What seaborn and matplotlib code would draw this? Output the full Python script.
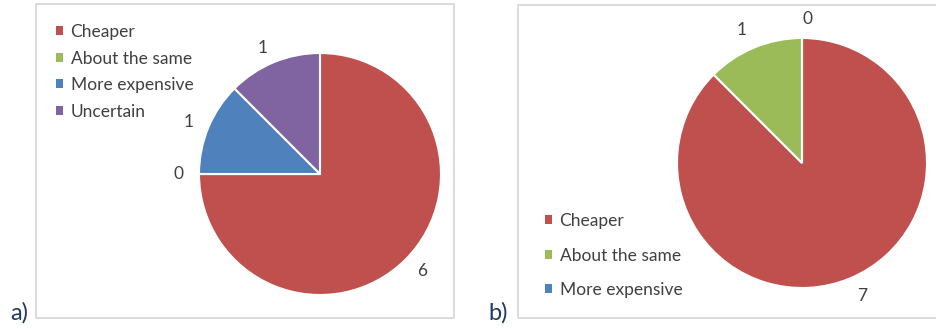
import matplotlib
matplotlib.use("Agg")
import matplotlib.pyplot as plt
from matplotlib.patches import Rectangle, Patch
import seaborn as sns

sns.set_theme(style="white")
plt.rcParams['font.family'] = ['Lato', 'DejaVu Sans']

# Data
cats_a = ["Cheaper", "About the same", "More expensive", "Uncertain"]
vals_a = [6, 0, 1, 1]
cats_b = ["Cheaper", "About the same", "More expensive"]
vals_b = [7, 1, 0]
colors = ["#C0504D", "#9BBB59", "#4F81BD", "#8064A2"]

W, H = 936, 329
fig = plt.figure(figsize=(W / 100, H / 100), dpi=100)
fig.patch.set_facecolor("white")

def px_axes(cx, cy, r):
    return fig.add_axes([(cx - r) / W, (H - cy - r) / H, 2 * r / W, 2 * r / H])

def border(x0, y0, x1, y1):
    fig.patches.append(Rectangle((x0 / W, (H - y1) / H), (x1 - x0) / W, (y1 - y0) / H,
                                 transform=fig.transFigure, fill=False,
                                 edgecolor="#D9D9D9", lw=1.3, zorder=0))

border(36, 4, 454, 318)
border(518, 5, 945, 318)

txt = "#404040"
fs = 12.5

def draw_pie(ax, vals, cats, ldist):
    wedges, texts = ax.pie(vals, labels=[str(v) for v in vals], colors=colors[:len(vals)],
                           startangle=90, counterclock=False, labeldistance=ldist,
                           wedgeprops=dict(edgecolor="white", linewidth=1.5),
                           textprops=dict(fontsize=fs, color=txt))
    ax.set_xlim(-1, 1)
    ax.set_ylim(-1, 1)
    ax.set_axis_off()
    return [Patch(facecolor=w.get_facecolor(), edgecolor="none") for w in wedges]

ax_a = px_axes(320, 174, 121)
ha_ = draw_pie(ax_a, vals_a, cats_a, 1.13)
ax_b = px_axes(802, 163, 125)
hb_ = draw_pie(ax_b, vals_b, cats_b, 1.15)

common = dict(loc="upper left", frameon=False, fontsize=fs, labelcolor=txt, borderpad=0,
              borderaxespad=0, handlelength=0.42, handleheight=0.42, handletextpad=0.45)
fig.legend(ha_, cats_a, bbox_to_anchor=(55.5 / W, (H - 24) / H), labelspacing=0.61, **common)
fig.legend(hb_, cats_b, bbox_to_anchor=(544.5 / W, (H - 213) / H), labelspacing=1.07, **common)

navy = "#1F3864"
fig.text(19 / W, (H - 313) / H, "a)", fontsize=17, color=navy, ha="center", va="center")
fig.text(498 / W, (H - 313) / H, "b)", fontsize=17, color=navy, ha="center", va="center")

fig.savefig("out.png", dpi=100, facecolor="white")
